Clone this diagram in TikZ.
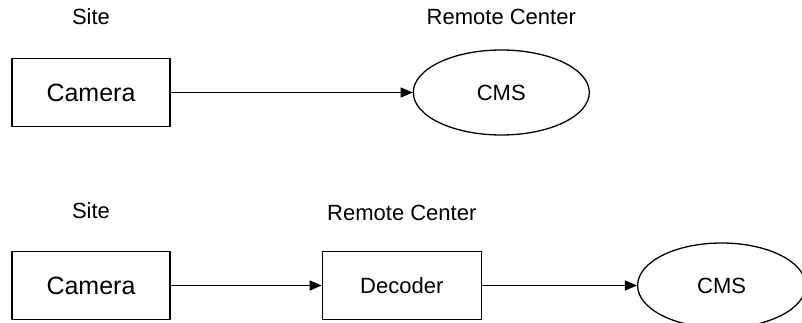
\documentclass[tikz,border=0pt]{standalone}
\usepackage{fontspec}
\setmainfont{Liberation Sans}
\usetikzlibrary{positioning, arrows.meta, shapes.geometric}

\begin{document}
\begin{tikzpicture}[
    x=1pt, y=1pt,
    block/.style={
        rectangle,
        draw,
        line width=1.3pt,
        minimum width=158pt,
        minimum height=68pt,
        inner sep=0pt
    },
    oval/.style={
        ellipse,
        draw,
        line width=1.3pt,
        minimum width=176pt,
        minimum height=85pt,
        inner sep=0pt,
        font=\fontsize{22}{25}\selectfont
    },
    place/.style={inner sep=0pt, font=\fontsize{22}{25}\selectfont},
    line/.style={-{Triangle[length=12pt, width=10pt]}, line width=1.3pt}
 % arrow style
]
    \useasboundingbox (0,0) rectangle (802,-323);

    % upper row
    \node[block, font=\fontsize{25}{28}\selectfont] (camera1) at (91,-92.5) {Camera};
    \node[oval, right=242pt of camera1] (cms1) {CMS};
    \node[place, above=33pt of camera1] (site1) {Site};
    \node[place, above=24pt of cms1] (remote1) {Remote Center};

    % lower row
    \node[block, font=\fontsize{25}{28}\selectfont] (camera2) at (91,-285.5) {Camera};
    \node[block, minimum width=159pt, font=\fontsize{22}{25}\selectfont, right=151pt of camera2] (decoder) {Decoder};
    \node[oval, minimum width=168pt, right=155pt of decoder] (cms2) {CMS};
    \node[place, above=32pt of camera2] (site2) {Site};
    \node[place, above=30pt of decoder] (remote2) {Remote Center};

    % arrows from edge to edge
    \draw[line] (camera1.east) -- (cms1.west);
    \draw[line] (camera2.east) -- (decoder.west);
    \draw[line] (decoder.east) -- (cms2.west);

\end{tikzpicture}
\end{document}
